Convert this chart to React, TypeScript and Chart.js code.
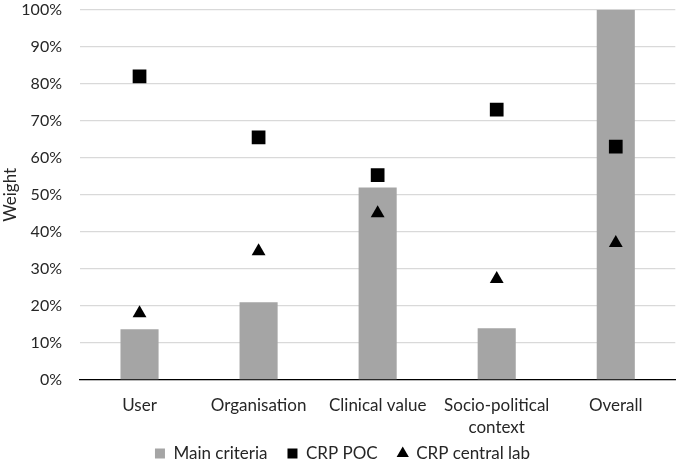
import React, { useEffect, useRef } from "react";
import { Chart, registerables } from "chart.js";

Chart.register(...registerables);

const categories: (string | string[])[] = [
  "User",
  "Organisation",
  "Clinical value",
  ["Socio-political", "context"],
  "Overall",
];
const mainCriteria = [13.7, 21, 52, 14, 100];
const crpPoc = [82, 65.5, 55.3, 73, 63];
const crpCentralLab = [18, 34.8, 45, 27.3, 37];
const yTicks = [0, 10, 20, 30, 40, 50, 60, 70, 80, 90, 100];

const FONT = "Lato, 'Open Sans', sans-serif";
const TEXT = "#262626";

const legendPlacer = {
  id: "legendPlacer",
  afterLayout(chart: any) {
    const lg = chart.legend;
    if (!lg) return;
    const h = lg.bottom - lg.top;
    lg.top = 425;
    lg.bottom = lg.top + h;
    if (lg.adjustHitBoxes) lg.adjustHitBoxes();
  },
};

export default function App() {
  const ref = useRef<HTMLCanvasElement | null>(null);

  useEffect(() => {
    document.body.style.margin = "0";
    const canvas = ref.current;
    if (!canvas) return;
    const chart = new Chart(canvas, {
      type: "bar",
      data: {
        labels: categories,
        datasets: [
          {
            type: "bar",
            label: "Main criteria",
            data: mainCriteria,
            backgroundColor: "#a5a5a5",
            borderWidth: 0,
            pointStyle: "rect",
            barPercentage: 0.32,
            categoryPercentage: 1,
            order: 3,
          } as any,
          {
            type: "line",
            label: "CRP POC",
            data: crpPoc,
            showLine: false,
            pointStyle: "rect",
            pointRadius: 9.7,
            pointHoverRadius: 9.7,
            backgroundColor: "#000",
            borderColor: "#000",
            borderWidth: 0,
            order: 1,
          } as any,
          {
            type: "line",
            label: "CRP central lab",
            data: crpCentralLab,
            showLine: false,
            pointStyle: "triangle",
            pointRadius: 8,
            pointHoverRadius: 8,
            backgroundColor: "#000",
            borderColor: "#000",
            borderWidth: 0,
            order: 2,
          } as any,
        ],
      },
      plugins: [legendPlacer],
      options: {
        animation: false,
        responsive: false,
        maintainAspectRatio: false,
        layout: { padding: { top: 1.5, right: 0, left: 0, bottom: -22 } },
        plugins: {
          tooltip: { enabled: false },
          legend: {
            position: "bottom",
            labels: {
              usePointStyle: true,
              boxWidth: 10,
              boxHeight: 10,
              padding: 20,
              color: TEXT,
              font: { family: FONT, size: 17 },
              sort: (a: any, b: any) => a.datasetIndex - b.datasetIndex,
            },
          },
        },
        scales: {
          x: {
            afterFit: (scale: any) => {
              scale.height = 58;
              scale.paddingLeft = 0;
              scale.paddingRight = 0;
            },
            grid: { display: false, drawTicks: false },
            border: { display: true, color: "#000", width: 1.3 },
            ticks: {
              color: TEXT,
              padding: 14,
              maxRotation: 0,
              autoSkip: false,
              font: { family: FONT, size: 17, lineHeight: 1.3 },
            },
          },
          y: {
            min: 0,
            max: 100,
            afterFit: (scale: any) => {
              scale.width = 80;
              scale.paddingTop = 0;
              scale.paddingBottom = 0;
            },
            afterBuildTicks: (scale: any) => {
              scale.ticks = yTicks.map((v) => ({ value: v }));
            },
            grid: {
              drawTicks: false,
              color: "#d9d9d9",
              lineWidth: 1.3,
            },
            border: { display: false },
            ticks: {
              color: TEXT,
              padding: 18,
              font: { family: FONT, size: 16 },
              callback: (v: any) => `${v}%`,
            },
            title: {
              display: true,
              text: "Weight",
              color: TEXT,
              padding: { top: 0, bottom: 0 },
              font: { family: FONT, size: 17 },
            },
          },
        },
      },
    });
    return () => chart.destroy();
  }, []);

  return (
    <div style={{ position: "absolute", left: 0, top: 0, width: 685, height: 463 }}>
      <canvas ref={ref} width={685} height={463} style={{ width: 685, height: 463 }} />
    </div>
  );
}
